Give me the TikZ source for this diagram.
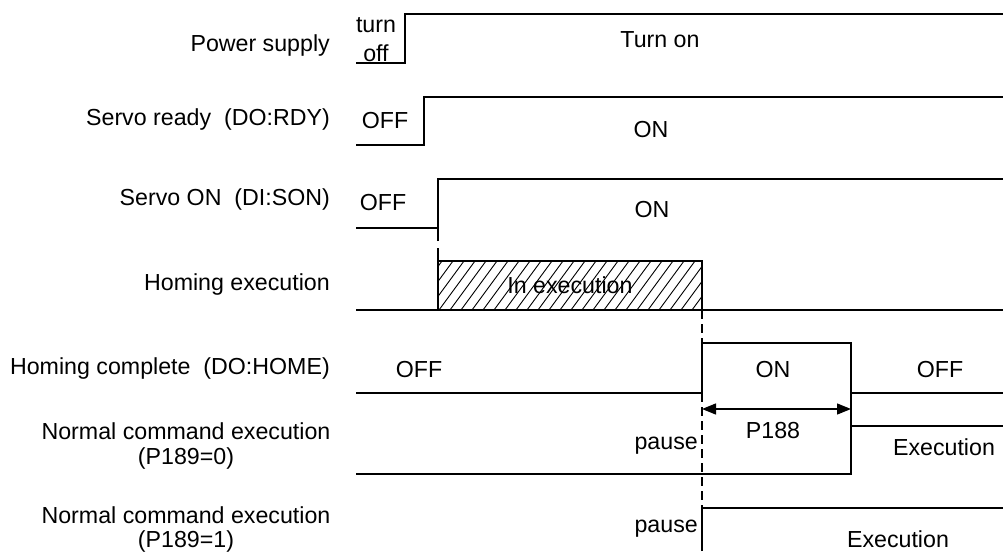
\documentclass[tikz,border=0pt]{standalone}
\usepackage{fontspec}
\setmainfont{Liberation Sans}
\usetikzlibrary{arrows.meta}
\begin{document}
\begin{tikzpicture}[x=1pt,y=-1pt,
  sig/.style={line width=1.3pt, line cap=butt},
  dashline/.style={line width=1.3pt, dash pattern=on 9pt off 5pt},
  hatchline/.style={line width=0.9pt},
  lbl/.style={inner sep=0pt, font=\fontsize{23.2}{27}\selectfont},
  dim/.style={line width=1.3pt, {Triangle[length=14pt,width=11pt]}-{Triangle[length=14pt,width=11pt]}}]
\useasboundingbox (0,0) rectangle (1003,551);

% left labels
\node[lbl, anchor=base east] (lps) at (330,52) {Power supply};
\node[lbl, anchor=base east] (lrdy) at (330,125) {Servo ready\ \ (DO:RDY)};
\node[lbl, anchor=base east] (lson) at (330,205) {Servo ON\ \ (DI:SON)};
\node[lbl, anchor=base east] (lhe) at (330,290) {Homing execution};
\node[lbl, anchor=base east] (lhc) at (330,374) {Homing complete\ \ (DO:HOME)};
\node[lbl, anchor=base] (ln0a) at (186,439) {Normal command execution};
\node[lbl, anchor=base] (ln0b) at (186,464) {(P189=0)};
\node[lbl, anchor=base] (ln1a) at (186,523) {Normal command execution};
\node[lbl, anchor=base] (ln1b) at (186,547) {(P189=1)};

% power supply
\draw[sig] (356,63) -- (405,63) -- (405,14) -- (1003,14);
\node[lbl, anchor=base] (tturn) at (376,33) {turn};
\node[lbl, anchor=base] (toff) at (376,61) {off};
\node[lbl, anchor=base] (tturnon) at (660,48) {Turn on};

% servo ready
\draw[sig] (356,145) -- (424,145) -- (424,97) -- (1003,97);
\node[lbl, anchor=base] (rdyoff) at (385,128) {OFF};
\node[lbl, anchor=base] (rdyon) at (651,137) {ON};

% servo on
\draw[sig] (356,228) -- (438,228);
\draw[sig] (438,241) -- (438,179) -- (1003,179);
\draw[sig] (438,248) -- (438,261);
\node[lbl, anchor=base] (sonoff) at (383,210) {OFF};
\node[lbl, anchor=base] (sonon) at (652,217) {ON};

% homing execution
\begin{scope}
  \clip (438,261) rectangle (702,310);
  \foreach \x in {395,406,...,702} \draw[hatchline] (\x,310) -- (\x+36,261);
\end{scope}
\draw[sig] (356,310) -- (1003,310);
\draw[sig] (438,310) -- (438,261) -- (702,261) -- (702,310);
\node[lbl, anchor=base] (hein) at (570,293) {In execution};

% homing complete
\draw[sig] (356,393) -- (702,393) -- (702,343) -- (851,343) -- (851,393) -- (1003,393);
\node[lbl, anchor=base] (hcoff1) at (419,377) {OFF};
\node[lbl, anchor=base] (hcon) at (773,377) {ON};
\node[lbl, anchor=base] (hcoff2) at (940,377) {OFF};

% dashed alignment line
\draw[dashline] (702,310) -- (702,343);
\draw[dashline] (702,393) -- (702,508);

% P188 dimension
\coordinate (pa) at (702,409);
\coordinate (pb) at (851,409);
\draw[dim] (pa) -- (pb);
\node[lbl, anchor=base] (p188) at (773,438) {P188};

% normal command P189=0
\draw[sig] (851,393) -- (851,426);
\draw[sig] (356,474) -- (851,474) -- (851,426) -- (1003,426);
\node[lbl, anchor=base east] (pause0) at (698,449) {pause};
\node[lbl, anchor=base] (exec0) at (944,455) {Execution};

% normal command P189=1
\draw[sig] (702,551) -- (702,508) -- (1003,508);
\node[lbl, anchor=base east] (pause1) at (698,532) {pause};
\node[lbl, anchor=base] (exec1) at (898,547) {Execution};
\end{tikzpicture}
\end{document}
